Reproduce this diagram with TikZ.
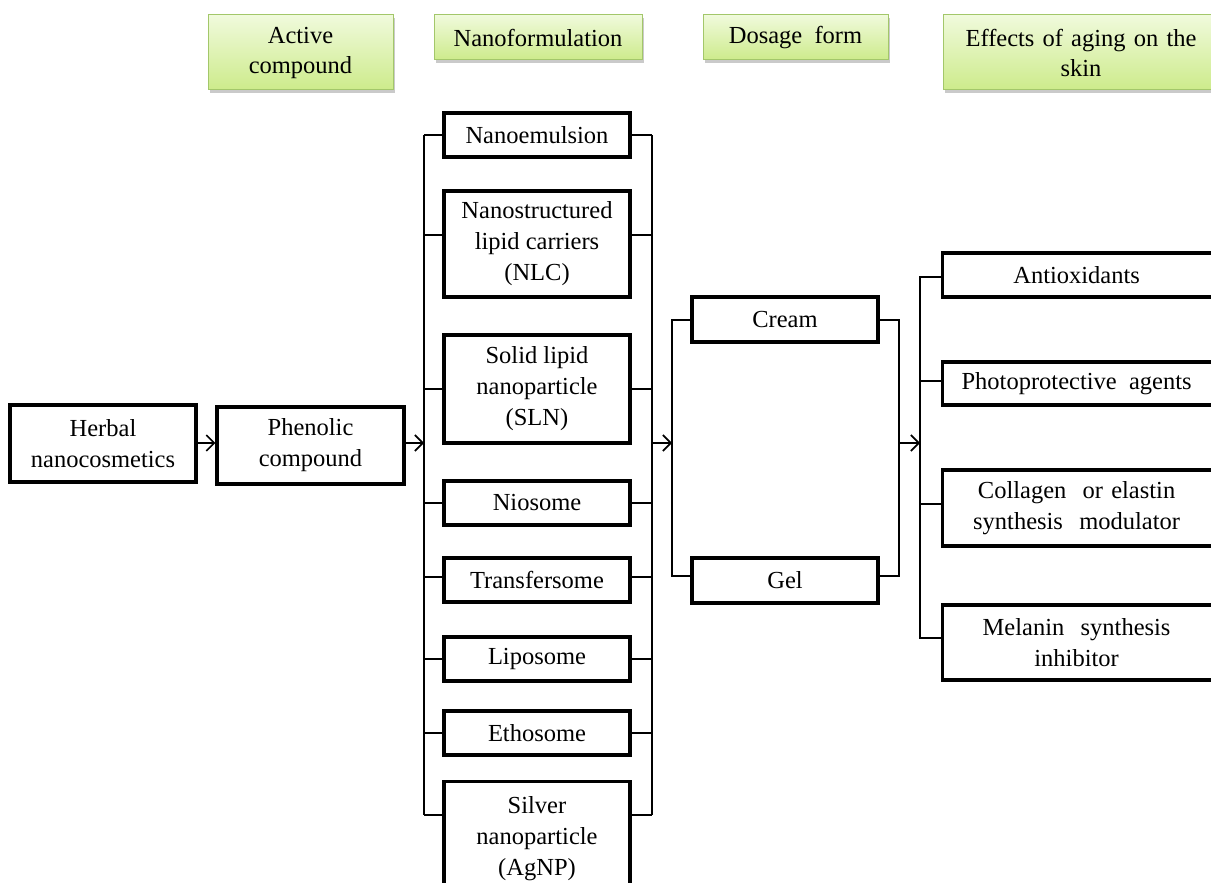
\documentclass[tikz,border=0pt]{standalone}
\usepackage{fontspec}
\setmainfont{Liberation Serif}
\usetikzlibrary{arrows.meta,shadows,calc}
\definecolor{hdtop}{HTML}{F0FADC}
\definecolor{hdbot}{HTML}{CDEB8B}
\definecolor{hdline}{HTML}{A3C76A}
\begin{document}
\begin{tikzpicture}[x=1pt,y=-1pt,
  box/.style={draw=black, line width=3.2pt, fill=white, align=center, inner sep=0pt,
    font=\fontsize{24.5}{31}\selectfont},
  txt/.style={align=center, inner sep=0pt, font=\fontsize{24.5}{31}\selectfont},
  hd/.style={draw=hdline, line width=1pt, top color=hdtop, bottom color=hdbot,
    align=center, inner sep=0pt, font=\fontsize{24.5}{30}\selectfont,
    drop shadow={shadow xshift=2pt, shadow yshift=-3pt, opacity=0.35, fill=black!60}},
  conn/.style={line width=2pt},
  arr/.style={line width=2pt, -{Straight Barb[length=8pt,width=16pt,line width=1.6pt]}}
]
\useasboundingbox (0,0) rectangle (1211,883);
\begin{scope}
\clip (0,0) rectangle (1211,883);
% headers
\node[hd, minimum width=185, minimum height=75] (h1) at (300.5,52.5) {Active\\compound};
\node[hd, minimum width=208, minimum height=45] (h2) at (538,37.5) {Nanoformulation};
\node[hd, minimum width=185, minimum height=45] (h3) at (795.5,37.5) {Dosage\ \ form};
\node[hd, minimum width=290, minimum height=75, text width=280] (h4) at (1088,52.5) {\hspace*{-14pt}Effects of aging on the\\\hspace*{-14pt}skin};

% left boxes
\node[box, minimum width=186, minimum height=77] (herbal) at (103,443.5) {Herbal\\nanocosmetics};
\node[box, minimum width=187, minimum height=77] (phen) at (310.5,445.5) {Phenolic\\compound};

% nanoformulation column
\node[box, minimum width=186, minimum height=44] (n1) at (537,135) {Nanoemulsion};
\node[box, minimum width=186, minimum height=106] (n2) at (537,244) {Nanostructured\\lipid carriers\\(NLC)};
\node[box, minimum width=186, minimum height=108] (n3) at (537,389) {Solid lipid\\nanoparticle\\(SLN)};
\node[box, minimum width=186, minimum height=44] (n4) at (537,503) {Niosome};
\node[box, minimum width=186, minimum height=44] (n5) at (537,580) {Transfersome};
\node[box, minimum width=186, minimum height=44] (n6) at (537,659) {Liposome};
\node[box, minimum width=186, minimum height=44] (n7) at (537,733) {Ethosome};
\node[box, minimum width=186, minimum height=115, anchor=north] (n8) at (537,780) {};
\node[txt, anchor=north] (n8t) at (537,796) {Silver\\nanoparticle\\(AgNP)};

% dosage column
\node[box, minimum width=186, minimum height=45] (d1) at (785,319.5) {Cream};
\node[box, minimum width=186, minimum height=45] (d2) at (785,580.5) {Gel};

% effects column
\node[box, minimum width=290, minimum height=44, anchor=west] (e1) at (941,275) {\hspace*{-22pt}Antioxidants};
\node[box, minimum width=290, minimum height=43, anchor=west] (e2) at (941,383.5) {\hspace*{-22pt}Photoprotective\ \ agents};
\node[box, minimum width=290, minimum height=76, anchor=west, text width=280] (e3) at (941,508) {\hspace*{-22pt}Collagen\ \ or elastin\\\hspace*{-22pt}synthesis\ \ modulator};
\node[box, minimum width=290, minimum height=75, anchor=west, text width=280] (e4) at (941,642.5) {\hspace*{-22pt}Melanin\ \ synthesis\\\hspace*{-22pt}inhibitor};

% bus coordinates
\coordinate (nL) at (424,443);
\coordinate (nR) at (652,443);
\coordinate (dL) at (672,443);
\coordinate (dR) at (899,443);
\coordinate (eL) at (920,443);
\coordinate (n8s) at (537,815);

% arrows
\draw[arr] (herbal.east |- nL) -- (nL -| phen.west);
\draw[arr] (phen.east |- nL) -- (nL);
\draw[arr] (nR) -- (dL);
\draw[arr] (dR) -- (eL);

% nano stubs and buses
\draw[conn] (n1.west) -- (n1.west -| nL);
\draw[conn] ([yshift=9pt]n2.west) -- ([yshift=9pt]n2.west -| nL);
\draw[conn] (n3.west) -- (n3.west -| nL);
\draw[conn] (n4.west) -- (n4.west -| nL);
\draw[conn] ([yshift=3pt]n5.west) -- ([yshift=3pt]n5.west -| nL);
\draw[conn] (n6.west) -- (n6.west -| nL);
\draw[conn] (n7.west) -- (n7.west -| nL);
\draw[conn] (n8s -| n8.west) -- (n8s -| nL);
\draw[conn] (n1.west -| nL) -- (n8s -| nL);

\draw[conn] (n1.east) -- (n1.east -| nR);
\draw[conn] ([yshift=9pt]n2.east) -- ([yshift=9pt]n2.east -| nR);
\draw[conn] (n3.east) -- (n3.east -| nR);
\draw[conn] (n4.east) -- (n4.east -| nR);
\draw[conn] ([yshift=3pt]n5.east) -- ([yshift=3pt]n5.east -| nR);
\draw[conn] (n6.east) -- (n6.east -| nR);
\draw[conn] (n7.east) -- (n7.east -| nR);
\draw[conn] (n8s -| n8.east) -- (n8s -| nR);
\draw[conn] (n1.east -| nR) -- (n8s -| nR);

% dosage stubs
\draw[conn] (d1.west) -| (dL) |- ([yshift=4.5pt]d2.west);
\draw[conn] (d1.east) -| (dR) |- ([yshift=4.5pt]d2.east);

% effects stubs
\draw[conn] ([yshift=-2pt]e1.west) -| (eL);
\draw[conn] ([yshift=2.5pt]e2.west) -- ([yshift=2.5pt]e2.west -| eL);
\draw[conn] ([yshift=4pt]e3.west) -- ([yshift=4pt]e3.west -| eL);
\draw[conn] ([yshift=4.5pt]e4.west) -| (eL);
\end{scope}
\end{tikzpicture}
\end{document}
